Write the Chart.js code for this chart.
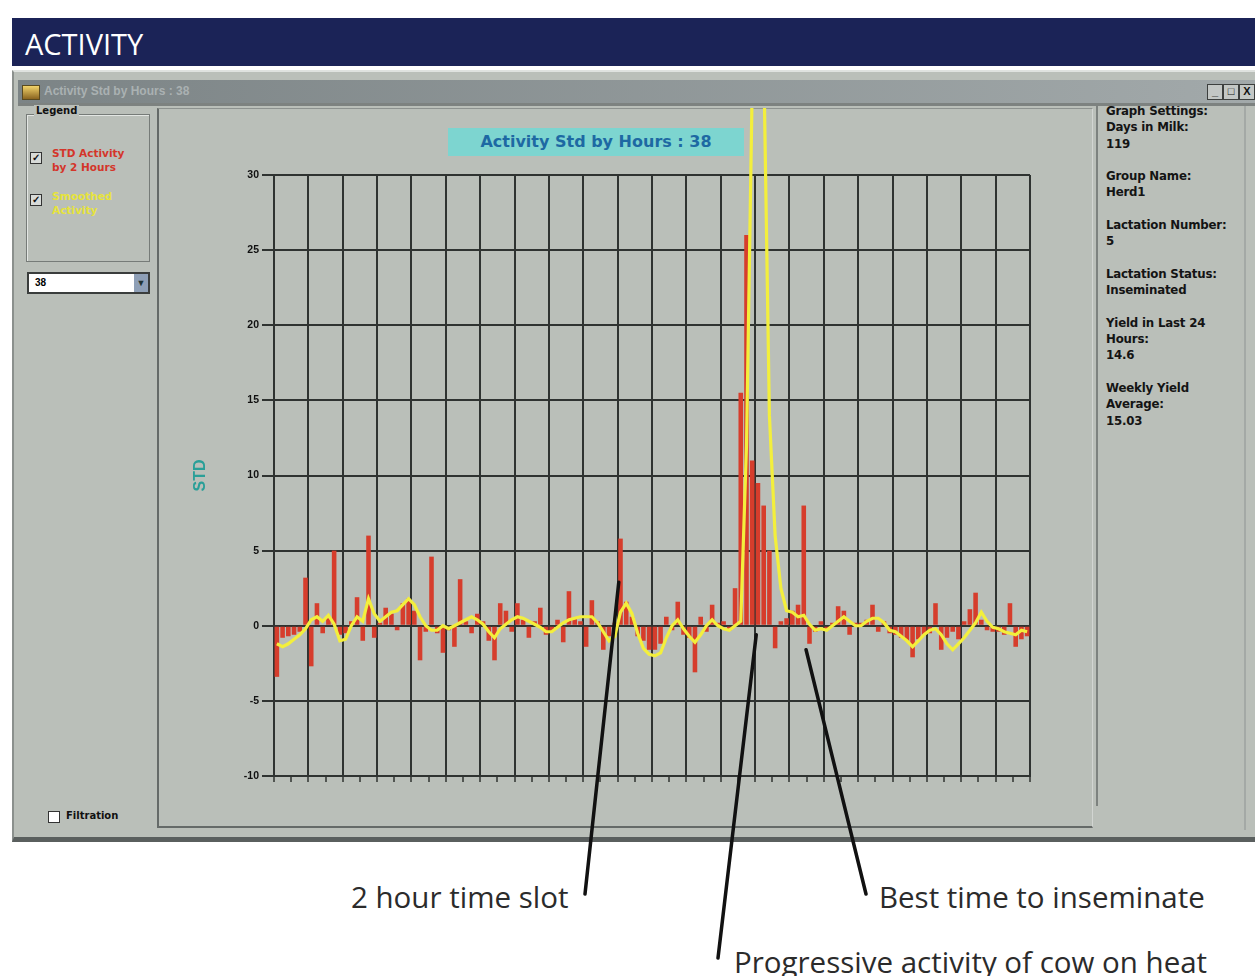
<!DOCTYPE html>
<html>
<head>
<meta charset="utf-8">
<script src="https://cdn.jsdelivr.net/npm/chart.js@4.4.0/dist/chart.umd.min.js"></script>
<style>
body{margin:0;width:1255px;height:976px;position:relative;overflow:hidden;background:#fff;font-family:"Liberation Sans",Arial,sans-serif;}
.a{position:absolute;}
#header{left:12px;top:18px;width:1243px;height:48px;background:#1b2357;color:#fff;font-family:"Open Sans";font-size:29px;line-height:52px;padding-left:13px;box-sizing:border-box;}
#win{left:12px;top:70px;width:1243px;height:772px;background:#babfb9;border-top:2px solid #dfe2df;border-left:2px solid #8b908d;border-bottom:5px solid #5a5f5e;box-sizing:border-box;}
#titlebar{left:18px;top:80px;width:1237px;height:23px;background:linear-gradient(to right,#7c8486,#a2a9aa);}
#titletext{left:44px;top:84px;font-size:12px;font-weight:bold;color:#aab1b2;}
#icon{left:22px;top:85px;width:16px;height:13px;background:linear-gradient(#f2d36a,#8a6420);border:1px solid #5a4a20;}
.btn{top:84px;width:14px;height:14px;background:#c3c7c5;border:1px solid #3c3f3e;font-size:11px;font-weight:bold;line-height:13px;text-align:center;color:#111;}
#sep{left:18px;top:103px;width:1237px;height:3px;background:#7d8280;}
#legend{left:26px;top:114px;width:124px;height:148px;border:1px solid #767b78;box-shadow:inset 1px 1px #e3e6e3;box-sizing:border-box;}
#legendlbl{left:34px;top:105px;font-family:"DejaVu Sans";font-size:10px;font-weight:bold;background:#babfb9;padding:0 2px;color:#111;}
.cb{width:10px;height:10px;border:1px solid #333;background:#d8dbd8;font-size:10px;line-height:10px;text-align:center;font-weight:bold;color:#111;}
.lt{font-family:"DejaVu Sans";font-size:10.5px;font-weight:bold;line-height:14px;}
#drop{left:27px;top:272px;width:123px;height:22px;background:#fff;border:2px solid #3a3d3c;box-sizing:border-box;font-size:10px;font-weight:bold;line-height:18px;padding-left:6px;}
#dropbtn{right:0;top:0;width:14px;height:18px;background:#8e9fb6;color:#233;font-size:9px;line-height:18px;text-align:center;}
#panel{left:157px;top:108px;width:936px;height:720px;border-left:2px solid #656a68;border-bottom:2px solid #656a68;border-top:1px solid #8d928f;border-right:1px solid #d2d5d2;box-sizing:border-box;}
#cbox{left:448px;top:128px;width:296px;height:28px;background:#7dd5d0;color:#1d69a3;font-family:"DejaVu Sans";font-weight:bold;font-size:16px;line-height:28px;text-align:center;}
#chartwrap{left:157px;top:108px;width:936px;height:720px;}
#info{left:1106px;top:103px;font-family:"DejaVu Sans";font-size:11.8px;font-weight:bold;line-height:16.3px;color:#141414;letter-spacing:-0.2px;}
.vl{width:2px;background:#7d827f;}
.note{font-family:"Open Sans";font-size:29.5px;line-height:34px;color:#2b2b2b;white-space:nowrap;}
svg{position:absolute;left:0;top:0;pointer-events:none;}
</style>
</head>
<body>
<div class="a" id="header">ACTIVITY</div>
<div class="a" id="win"></div>
<div class="a" id="titlebar"></div>
<div class="a" id="icon"></div>
<div class="a" id="titletext">Activity Std by Hours : 38</div>
<div class="a btn" style="left:1207px">_</div>
<div class="a btn" style="left:1223px">□</div>
<div class="a btn" style="left:1239px">X</div>

<div class="a" id="info">Graph Settings:<br>Days in Milk:<br>119<br><br>Group Name:<br>Herd1<br><br>Lactation Number:<br>5<br><br>Lactation Status:<br>Inseminated<br><br>Yield in Last 24<br>Hours:<br>14.6<br><br>Weekly Yield<br>Average:<br>15.03</div>
<div class="a" id="sep"></div>

<div class="a" id="legend"></div>
<div class="a" id="legendlbl">Legend</div>
<div class="a cb" style="left:30px;top:152px">✓</div>
<div class="a lt" style="left:52px;top:146px;color:#d4352a">STD Activity<br>by 2 Hours</div>
<div class="a cb" style="left:30px;top:194px">✓</div>
<div class="a lt" style="left:52px;top:189px;color:#e6e33c">Smoothed<br>Activity</div>
<div class="a" id="drop">38<div class="a" id="dropbtn">▼</div></div>
<div class="a cb" style="left:48px;top:811px;background:#fff"></div>
<div class="a lt" style="left:66px;top:809px;color:#111;font-size:10px">Filtration</div>

<div class="a" id="panel"></div>
<div class="a vl" style="left:1096px;top:106px;height:700px"></div>
<div class="a vl" style="left:1244px;top:106px;height:724px;background:#a4a9a6"></div>
<div class="a" id="chartwrap"><canvas id="myChart" width="936" height="720"></canvas></div>
<div class="a" id="cbox">Activity Std by Hours : 38</div>

<div class="a note" style="left:351px;top:880px">2 hour time slot</div>
<div class="a note" style="left:879px;top:880px">Best time to inseminate</div>
<div class="a note" style="left:734px;top:945px">Progressive activity of cow on heat</div>
<svg width="1255" height="976">
  <line id="ann0" x1="585" y1="894" x2="618" y2="582" stroke="#111" stroke-width="3.5" stroke-linecap="round"/>
  <line id="ann1" x1="718" y1="958" x2="757" y2="636" stroke="#111" stroke-width="3.5" stroke-linecap="round"/>
  <line id="ann2" x1="866" y1="894" x2="806" y2="650" stroke="#111" stroke-width="3.5" stroke-linecap="round"/>
</svg>

<script>
// STD activity per 2 hour slot, 6 slots between grid lines
var stdActivity = [
  -3.4, -0.8, -0.7, -0.6, -0.4, 3.2,
  -2.7, 1.5, -0.5, 0.5, 5.0, -0.6,
  -0.5, 0.3, 1.9, -1.0, 6.0, -0.8,
  0.2, 1.2, 0.8, -0.3, 1.5, 1.8,
  1.0, -2.3, -0.4, 4.6, -0.5, -1.8,
  -0.3, -1.4, 3.1, 0.3, -0.5, 0.8,
  0.3, -1.0, -2.3, 1.5, 1.0, -0.4,
  1.5, 0.4, -0.8, 0.3, 1.2, -0.6,
  -0.4, 0.4, -1.1, 2.3, 0.5, 0.3,
  -1.4, 1.7, 0.3, -1.6, -0.7, 0.2,
  5.8, 1.6, 0.6, -0.7, -1.0, -1.6,
  -1.6, -1.2, 0.6, -0.3, 1.6, -0.6,
  -0.8, -3.1, 0.6, -0.4, 1.4, 0.2,
  0.3, -0.3, 2.5, 15.5, 26.0, 11.0,
  9.5, 8.0, 5.0, -1.5, 0.3, 0.5,
  1.0, 1.4, 8.0, -1.2, -0.4, 0.3,
  -0.3, 0.2, 1.3, 1.0, -0.6, 0.2,
  0.2, 0.4, 1.4, -0.4, 0.3, -0.5,
  -0.6, -0.8, -1.0, -2.1, -0.9, -0.6,
  -0.5, 1.5, -1.6, -0.8, -0.4, -0.9,
  0.3, 1.1, 2.2, 0.4, -0.3, -0.4,
  -0.4, -0.6, 1.5, -1.4, -0.9, -0.7
];
var smoothed = [
  -1.2, -1.4, -1.2, -0.9, -0.6, -0.2,
  0.4, 0.6, 0.3, 0.7, 0.1, -1.0,
  -0.9, 0.0, 0.6, 0.3, 1.8, 0.8,
  0.3, 0.6, 0.9, 1.0, 1.4, 1.8,
  1.4, 0.6, 0.0, -0.3, -0.3, 0.0,
  -0.2, 0.0, 0.2, 0.4, 0.6, 0.4,
  0.1, -0.4, -0.8, -0.2, 0.1, 0.4,
  0.6, 0.5, 0.3, 0.1, -0.1, -0.4,
  -0.4, -0.1, 0.2, 0.4, 0.5, 0.6,
  0.6, 0.6, 0.2, -0.4, -1.0, -0.7,
  0.9, 1.5, 0.8, -0.5, -1.5, -1.9,
  -2.0, -1.8, -0.8, 0.0, 0.4, -0.2,
  -0.7, -1.1, -0.6, 0.0, 0.4, 0.0,
  -0.2, -0.3, 0.0, 0.3, 12, 36,
  48, 38, 14, 6, 2.5, 1,
  0.9, 0.6, 0.7, 0.1, -0.3, -0.2,
  -0.3, 0.0, 0.3, 0.6, 0.3, 0.0,
  0.0, 0.3, 0.5, 0.5, 0.2, -0.3,
  -0.4, -0.7, -1.0, -1.4, -1.0, -0.6,
  -0.3, -0.2, -0.6, -1.2, -1.6, -1.2,
  -0.8, -0.3, 0.2, 0.9, 0.3, -0.1,
  -0.2, -0.4, -0.5, -0.6, -0.3, -0.4
];
var yTicks = [30, 25, 20, 15, 10, 5, 0, -5, -10];
// where the callout lines touch the graph (slot, std)
var calloutSlots = [60.2, 84.2, 92.9];
var calloutStd = [2.9, -0.6, -1.6];

function toPoints(list){
    return list.map(function(v, i){ return {x: i + 0.5, y: v}; });
}

var calloutPlugin = {
    id: 'callouts',
    afterDraw: function(chart){
        var xs = chart.scales.x, ys = chart.scales.y;
        for (var i = 0; i < calloutSlots.length; i++) {
            var el = document.getElementById('ann' + i);
            el.setAttribute('x2', 157 + xs.getPixelForValue(calloutSlots[i]));
            el.setAttribute('y2', 108 + ys.getPixelForValue(calloutStd[i]));
        }
    }
};

var gridDark = '#2f3331';
var myChart = new Chart(document.getElementById('myChart'), {
    type: 'bar',
    data: {
        datasets: [{
            type: 'line',
            label: 'Smoothed Activity',
            data: toPoints(smoothed),
            borderColor: '#f3ef3c',
            borderWidth: 3.2,
            pointRadius: 0,
            tension: 0,
            clip: false,
            order: 0
        }, {
            label: 'STD Activity by 2 Hours',
            data: toPoints(stdActivity),
            backgroundColor: '#d63d2c',
            categoryPercentage: 1,
            barPercentage: 0.8,
            order: 1
        }]
    },
    options: {
        responsive: false,
        animation: false,
        layout: { padding: { left: 0, top: 67, right: 63, bottom: 0 } },
        plugins: { legend: { display: false }, tooltip: { enabled: false } },
        scales: {
            x: {
                type: 'linear',
                min: 0,
                max: stdActivity.length,
                offset: false,
                afterFit: function(scale){ scale.height = 52; },
                ticks: { display: false, stepSize: 3 },
                border: { display: true, color: gridDark, width: 2 },
                grid: {
                    offset: false,
                    color: function(ctx){ return ctx.tick && ctx.tick.value % 6 === 0 ? gridDark : 'rgba(0,0,0,0)'; },
                    lineWidth: 2,
                    tickColor: gridDark,
                    tickWidth: 1.5,
                    tickLength: 6
                }
            },
            y: {
                min: -10,
                max: 30,
                afterFit: function(scale){ scale.width = 117; },
                afterBuildTicks: function(scale){
                    scale.ticks = yTicks.map(function(v){ return {value: v}; });
                },
                ticks: {
                    color: '#111',
                    font: { family: 'Liberation Sans', size: 10.5, weight: 'bold' },
                    padding: 3
                },
                title: {
                    display: true,
                    text: 'STD',
                    color: '#2a9f98',
                    font: { family: 'Liberation Sans', size: 16, weight: 'bold' },
                    padding: { top: 34, bottom: 0 }
                },
                border: { display: true, color: gridDark, width: 2 },
                grid: { color: gridDark, lineWidth: 2, tickLength: 12 }
            }
        }
    },
    plugins: [calloutPlugin]
});
</script>
</body>
</html>
